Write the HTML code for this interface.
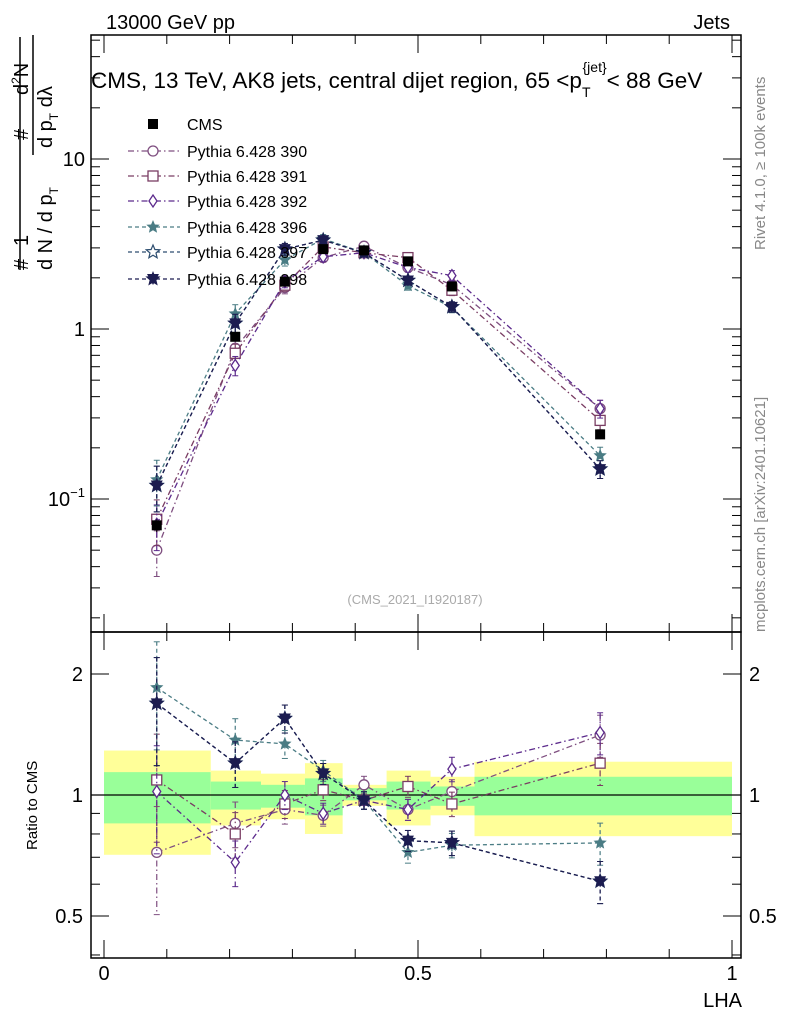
<!DOCTYPE html>
<html><head><meta charset="utf-8"><style>
html,body{margin:0;padding:0;background:#fff;}
svg{display:block;font-family:"Liberation Sans",sans-serif;}
</style></head><body>
<svg id="c" width="786" height="1024" viewBox="0 0 786 1024" xmlns="http://www.w3.org/2000/svg">
<g id="bands"></g>
<g id="axes"></g>
<g id="marks"></g>
<g id="legend"></g>
<text x="106" y="29" font-size="20">13000 GeV pp</text>
<text x="730" y="29" font-size="20" text-anchor="end">Jets</text>
<text x="91" y="88" font-size="22.5">CMS, 13 TeV, AK8 jets, central dijet region, 65 &lt;p<tspan font-size="14" dy="9">T</tspan><tspan font-size="14" dy="-25" dx="-8">{jet}</tspan><tspan dy="16">&lt; 88 GeV</tspan></text>
<text x="415" y="604" font-size="13" fill="#aaa" text-anchor="middle">(CMS_2021_I1920187)</text>
<text transform="translate(765,250) rotate(-90)" font-size="15" fill="#888">Rivet 4.1.0, ≥ 100k events</text>
<text transform="translate(765,632) rotate(-90)" font-size="15" fill="#888">mcplots.cern.ch [arXiv:2401.10621]</text>
<text transform="translate(37,850) rotate(-90)" font-size="15">Ratio to CMS</text>
<text x="742" y="1007" font-size="20" text-anchor="end">LHA</text>
<g font-size="20">
<text transform="translate(28,270) rotate(-90)">#</text>
<text transform="translate(28,246) rotate(-90)">1</text>
<line x1="20" y1="270" x2="20" y2="37" stroke="#000" stroke-width="1.5"/>
<text transform="translate(52,270) rotate(-90)">d N / d p<tspan font-size="12" dy="6">T</tspan></text>
<text transform="translate(28,140) rotate(-90)">#</text>
<text transform="translate(28,95) rotate(-90)">d<tspan font-size="12" dy="-8">2</tspan><tspan dy="8">N</tspan></text>
<line x1="33" y1="155" x2="33" y2="35" stroke="#000" stroke-width="1.5"/>
<text transform="translate(52,148) rotate(-90)">d p<tspan font-size="12" dy="6">T</tspan><tspan dy="-6"> dλ</tspan></text>
</g>
</svg>
<script>
const lha=[0.084,0.209,0.288,0.349,0.414,0.484,0.554,0.79];
const binEdges=[0,0.17,0.25,0.32,0.38,0.45,0.52,0.59,1.0];
const cms=[0.07,0.90,1.90,2.95,2.90,2.50,1.78,0.24];
const cmsErr=[0.006,0.05,0.08,0.1,0.1,0.09,0.07,0.015];
const names=["Pythia 6.428 390","Pythia 6.428 391","Pythia 6.428 392","Pythia 6.428 396","Pythia 6.428 397","Pythia 6.428 398"];
const val390=[0.050,0.77,1.75,2.63,3.07,2.30,1.82,0.34];
const val391=[0.076,0.72,1.81,3.04,2.81,2.63,1.69,0.29];
const val392=[0.071,0.61,1.90,2.66,2.81,2.30,2.06,0.34];
const val396=[0.13,1.23,2.55,3.39,2.81,1.80,1.34,0.18];
const val397=[0.12,1.08,2.95,3.33,2.81,1.93,1.35,0.15];
const val398=[0.12,1.08,2.95,3.33,2.81,1.93,1.35,0.15];
const rat390=[0.72,0.85,0.92,0.89,1.06,0.92,1.02,1.41];
const rat391=[1.09,0.80,0.95,1.03,0.97,1.05,0.95,1.20];
const rat392=[1.02,0.68,1.00,0.90,0.97,0.92,1.16,1.43];
const rat396=[1.85,1.37,1.34,1.15,0.97,0.72,0.75,0.76];
const rat397=[1.69,1.20,1.55,1.13,0.97,0.77,0.76,0.61];
const rat398=[1.69,1.20,1.55,1.13,0.97,0.77,0.76,0.61];
const relErr=[0.3,0.13,0.08,0.06,0.05,0.06,0.07,0.12];
const yellowLo=[0.71,0.84,0.87,0.80,0.94,0.84,0.89,0.79];
const yellowHi=[1.29,1.15,1.13,1.20,1.06,1.15,1.11,1.21];
const greenLo=[0.85,0.92,0.93,0.89,0.97,0.92,0.94,0.89];
const greenHi=[1.14,1.08,1.06,1.10,1.04,1.08,1.05,1.11];
const mainTicks=[0.1,1,10];
const ratioTicks=[0.5,1,2];
const xTicks=[0,0.5,1];

const NS="http://www.w3.org/2000/svg";
const L=91,R=741,T=35,MB=632,B=958;
const X=v=>104+628*v;
const Ym=v=>329-170*Math.log10(v);
const Yr=v=>795-402*Math.log10(v);
function mk(tag,at,parent){const e=document.createElementNS(NS,tag);for(const k in at)e.setAttribute(k,at[k]);parent.appendChild(e);return e;}
const bands=document.getElementById('bands'),axes=document.getElementById('axes'),marks=document.getElementById('marks'),leg=document.getElementById('legend');

for(let i=0;i<lha.length;i++){
 const x0=X(binEdges[i]),x1=X(binEdges[i+1]);
 const y=mk('rect',{x:x0,y:Yr(yellowHi[i]),width:x1-x0,height:Yr(yellowLo[i])-Yr(yellowHi[i]),fill:'#ffff99'},bands);
 
 
 const g=mk('rect',{x:x0,y:Yr(greenHi[i]),width:x1-x0,height:Yr(greenLo[i])-Yr(greenHi[i]),fill:'#99ff99'},bands);
 
 
}
mk('rect',{x:L,y:T,width:R-L,height:MB-T,fill:'none',stroke:'#000','stroke-width':1.5},axes);
mk('rect',{x:L,y:MB,width:R-L,height:B-MB,fill:'none',stroke:'#000','stroke-width':1.5},axes);
mk('line',{x1:L,x2:R,y1:Yr(1),y2:Yr(1),stroke:'#000','stroke-width':1.2},axes);
for(let d=-2;d<=1;d++)for(let m=1;m<=9;m++){const v=m*Math.pow(10,d);const y=Ym(v);if(y<T||y>MB)continue;const len=m==1?18:9;
 mk('line',{x1:L,x2:L+len,y1:y,y2:y,stroke:'#000'},axes);mk('line',{x1:R,x2:R-len,y1:y,y2:y,stroke:'#000'},axes);}
mainTicks.forEach(v=>{const t=mk('text',{x:L-6,y:Ym(v)+7,'font-size':20,'text-anchor':'end'},axes);
 if(v==0.1){t.innerHTML='10<tspan font-size="13" dy="-9">−1</tspan>';}else t.textContent=v;
 
 });
for(let d=-1;d<=0;d++)for(let m=1;m<=9;m++){const v=m*Math.pow(10,d);const y=Yr(v);if(y<MB||y>B)continue;const len=(v==0.5||v==1||v==2)?18:9;
 mk('line',{x1:L,x2:L+len,y1:y,y2:y,stroke:'#000'},axes);mk('line',{x1:R,x2:R-len,y1:y,y2:y,stroke:'#000'},axes);}
ratioTicks.forEach(v=>{[[L-8,'end'],[R+8,'start']].forEach(([x,a])=>{const t=mk('text',{x:x,y:Yr(v)+7,'font-size':20,'text-anchor':a},axes);t.textContent=v;
 
 });});
for(let k=0;k<=10;k++){const v=k/10,x=X(v),len=(k%5==0)?18:9;
 [[B,-1],[MB,-1],[MB,1],[T,1]].forEach(([y,s])=>mk('line',{x1:x,x2:x,y1:y,y2:y+s*len,stroke:'#000'},axes));}
xTicks.forEach(v=>{const t=mk('text',{x:X(v),y:980,'font-size':20,'text-anchor':'middle'},axes);t.textContent=v;
 
 });

const series=[
 {v:val390,r:rat390,c:'#7f4f80',dash:'6,3,1.5,3',m:'circle'},
 {v:val391,r:rat391,c:'#7a3d63',dash:'6,3,1.5,3',m:'square'},
 {v:val392,r:rat392,c:'#5c2a8c',dash:'6,3,1.5,3',m:'diamond'},
 {v:val396,r:rat396,c:'#4a7c84',dash:'4,3',m:'star'},
 {v:val397,r:rat397,c:'#2e4e70',dash:'4,3',m:'ostar'},
 {v:val398,r:rat398,c:'#1c1c50',dash:'4,3',m:'tri'}];
function starPts(x,y,r){let p=[];for(let i=0;i<10;i++){const a=-Math.PI/2+i*Math.PI/5,rr=i%2?r*0.45:r;p.push((x+rr*Math.cos(a)).toFixed(1)+','+(y+rr*Math.sin(a)).toFixed(1));}return p.join(' ');}
function marker(m,x,y,c,par){let e;
 if(m=='circle')e=mk('circle',{cx:x,cy:y,r:5,fill:'#fff',stroke:c,'stroke-width':1.3},par);
 else if(m=='square')e=mk('rect',{x:x-5,y:y-5,width:10,height:10,fill:'#fff',stroke:c,'stroke-width':1.3},par);
 else if(m=='diamond')e=mk('polygon',{points:`${x},${y-6} ${x+4},${y} ${x},${y+6} ${x-4},${y}`,fill:'#fff',stroke:c,'stroke-width':1.3},par);
 else if(m=='star')e=mk('polygon',{points:starPts(x,y,7),fill:c},par);
 else if(m=='ostar')e=mk('polygon',{points:starPts(x,y,7),fill:'#fff',stroke:c,'stroke-width':1.2},par);
 else if(m=='tri'){mk('polygon',{points:starPts(x,y,8),fill:c},par);e=mk('polygon',{points:`${x-6},${y-5} ${x+6},${y-5} ${x},${y+6}`,fill:c},par);}
 else e=mk('rect',{x:x-5,y:y-5,width:10,height:10,fill:c},par);
 return e;}
series.forEach((s,si)=>{
 const g=mk('g',{},marks);
 
 
 mk('polyline',{points:lha.map((l,i)=>X(l)+','+Ym(s.v[i])).join(' '),fill:'none',stroke:s.c,'stroke-width':1.3,'stroke-dasharray':s.dash},g);
 mk('polyline',{points:lha.map((l,i)=>X(l)+','+Yr(s.r[i])).join(' '),fill:'none',stroke:s.c,'stroke-width':1.3,'stroke-dasharray':s.dash},g);
 lha.forEach((l,i)=>{
  const x=X(l);
  [[Ym,s.v[i]],[Yr,s.r[i]]].forEach(([F,v])=>{
   const y1=F(v*(1+relErr[i])),y2=F(Math.max(v*(1-relErr[i]),1e-3));
   mk('line',{x1:x,x2:x,y1:y1,y2:y2,stroke:s.c,'stroke-width':1.2,'stroke-dasharray':s.dash},g);
   mk('line',{x1:x-3,x2:x+3,y1:y1,y2:y1,stroke:s.c},g);mk('line',{x1:x-3,x2:x+3,y1:y2,y2:y2,stroke:s.c},g);
   const p=marker(s.m,x,F(v),s.c,g);
   
   
  });});
});
const cg=mk('g',{},marks);


lha.forEach((l,i)=>{const x=X(l);
 mk('line',{x1:x,x2:x,y1:Ym(cms[i]+cmsErr[i]),y2:Ym(cms[i]-cmsErr[i]),stroke:'#000'},cg);
 const p=mk('rect',{x:x-5,y:Ym(cms[i])-5,width:10,height:10,fill:'#000'},cg);
 
 });
const legRows=[124,151,176,201,227,252,279];
const lc=mk('rect',{x:148,y:legRows[0]-5,width:10,height:10,fill:'#000'},leg);
const lt=mk('text',{x:187,y:legRows[0]+6,'font-size':16},leg);lt.textContent='CMS';


series.forEach((s,si)=>{const y=legRows[si+1];
 mk('line',{x1:128,x2:180,y1:y,y2:y,stroke:s.c,'stroke-width':1.3,'stroke-dasharray':s.dash},leg);
 marker(s.m,153,y,s.c,leg);
 const t=mk('text',{x:187,y:y+6,'font-size':16},leg);t.textContent=names[si];
 
 });
</script>
</body></html>
